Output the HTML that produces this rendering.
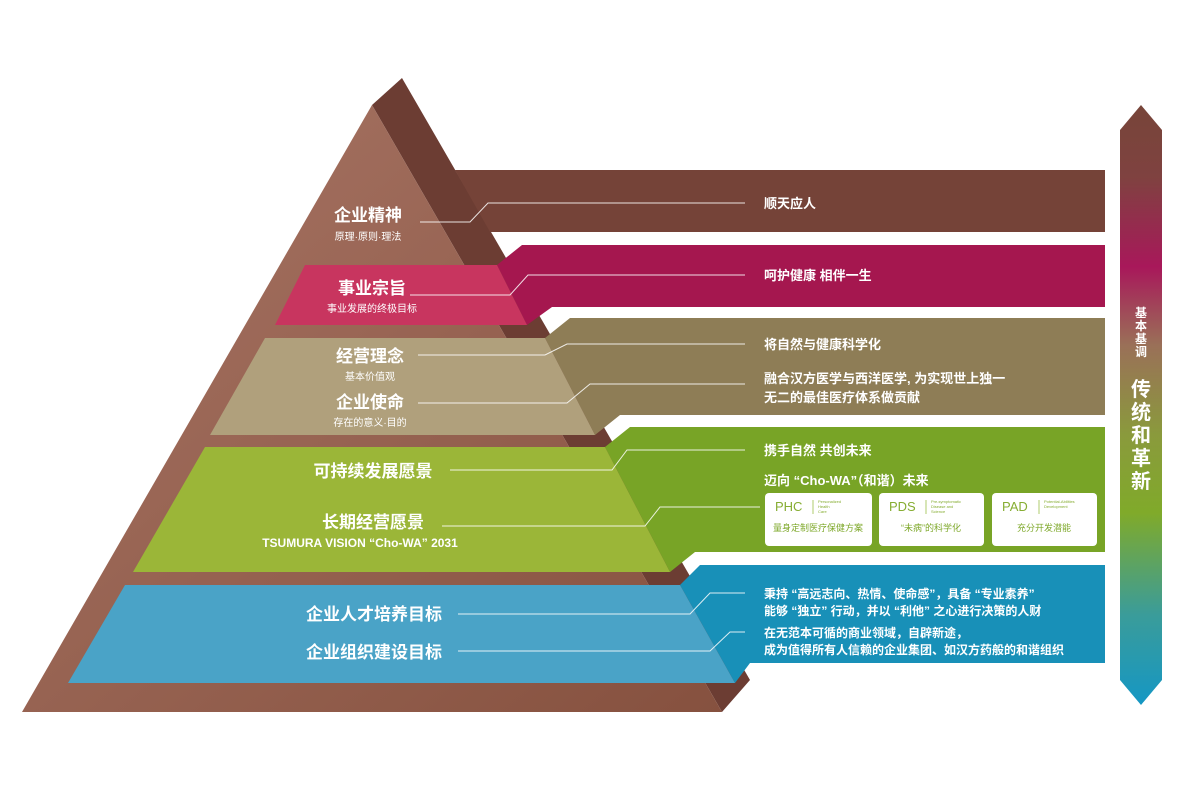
<!DOCTYPE html>
<html><head><meta charset="utf-8"><style>
body{margin:0;background:#fff;width:1200px;height:800px;overflow:hidden}
svg text{font-family:"Liberation Sans","Noto Sans CJK SC",sans-serif;fill:#fff}
</style></head><body>
<svg width="1200" height="800" viewBox="0 0 1200 800">
<defs>
<linearGradient id="pf" x1="0" y1="0" x2="1" y2="1"><stop offset="0" stop-color="#a87565"/><stop offset="1" stop-color="#86513f"/></linearGradient>
<linearGradient id="ar" x1="0" y1="0" x2="0" y2="1">
<stop offset="0" stop-color="#774539"/><stop offset="0.12" stop-color="#7f4240"/><stop offset="0.27" stop-color="#a8185a"/><stop offset="0.4" stop-color="#9a7058"/><stop offset="0.55" stop-color="#8a9a3c"/><stop offset="0.68" stop-color="#80aa2a"/><stop offset="0.85" stop-color="#3a9c9a"/><stop offset="1" stop-color="#1597c4"/></linearGradient>
</defs>
<!-- pyramid -->
<polygon points="372,105 402,78 750,680 722,712" fill="#6c3d33"/>
<polygon points="372,105 22,712 722,712" fill="url(#pf)"/>
<!-- tier1 bar -->
<polygon points="455,170 1105,170 1105,232 490,232" fill="#754338"/>
<!-- tier2 -->
<polygon points="497,265 522,245 1105,245 1105,307 552,307 527,325" fill="#a5174f"/>
<polygon points="305,265 497,265 527,325 275,325" fill="#c8355f"/>
<!-- tier3 -->
<polygon points="545,338 570,318 1105,318 1105,415 620,415 595,435" fill="#8e7d56"/>
<polygon points="265,338 545,338 595,435 210,435" fill="#b0a07c"/>
<!-- tier4 -->
<polygon points="605,447 630,427 1105,427 1105,552 695,552 670,572" fill="#78a426"/>
<polygon points="205,447 605,447 670,572 133,572" fill="#9bb638"/>
<!-- tier5 -->
<polygon points="680,585 700,565 1105,565 1105,663 750,663 735,683" fill="#1890b8"/>
<polygon points="125,585 680,585 735,683 68,683" fill="#4aa3c7"/>
<!-- arrow -->
<polygon points="1141,105 1162,130 1162,680 1141,705 1120,680 1120,130" fill="url(#ar)"/>
<g stroke="#fff" stroke-width="1" fill="none" opacity="0.85">
<polyline points="420,222 470,222 488,203 745,203"/>
<polyline points="410,295 510,295 528,275 745,275"/>
<polyline points="418,355 545,355 567,344 745,344"/>
<polyline points="418,403 567,403 590,384 745,384"/>
<polyline points="450,470 612,470 627,450 745,450"/>
<polyline points="442,526 645,526 660,507 760,507"/>
<polyline points="458,614 690,614 710,593 745,593"/>
<polyline points="458,651 710,651 730,632 745,632"/>
</g>
<!-- pyramid labels -->
<text x="368" y="221" font-size="17" font-weight="bold" text-anchor="middle">企业精神</text>
<text x="368" y="240" font-size="10" text-anchor="middle">原理·原则·理法</text>
<text x="372" y="294" font-size="17" font-weight="bold" text-anchor="middle">事业宗旨</text>
<text x="372" y="312" font-size="10" text-anchor="middle">事业发展的终极目标</text>
<text x="370" y="362" font-size="17" font-weight="bold" text-anchor="middle">经营理念</text>
<text x="370" y="380" font-size="10" text-anchor="middle">基本价值观</text>
<text x="370" y="408" font-size="17" font-weight="bold" text-anchor="middle">企业使命</text>
<text x="370" y="426" font-size="10" text-anchor="middle">存在的意义·目的</text>
<text x="373" y="477" font-size="17" font-weight="bold" text-anchor="middle">可持续发展愿景</text>
<text x="373" y="528" font-size="17" font-weight="bold" text-anchor="middle">长期经营愿景</text>
<text x="360" y="547" font-size="12" font-weight="bold" text-anchor="middle">TSUMURA VISION “Cho-WA” 2031</text>
<text x="374" y="620" font-size="17" font-weight="bold" text-anchor="middle">企业人才培养目标</text>
<text x="374" y="658" font-size="17" font-weight="bold" text-anchor="middle">企业组织建设目标</text>
<!-- bar texts -->
<g font-size="13" font-weight="bold">
<text x="764" y="208">顺天应人</text>
<text x="764" y="280">呵护健康 相伴一生</text>
<text x="764" y="349">将自然与健康科学化</text>
<text x="764" y="383">融合汉方医学与西洋医学, 为实现世上独一</text>
<text x="764" y="402">无二的最佳医疗体系做贡献</text>
<text x="764" y="455">携手自然 共创未来</text>
<text x="764" y="485">迈向 “Cho-WA”（和谐）未来</text>
<text x="764" y="598" font-size="12">秉持 “高远志向、热情、使命感”，具备 “专业素养”</text>
<text x="764" y="615" font-size="12">能够 “独立” 行动，并以 “利他” 之心进行决策的人财</text>
<text x="764" y="637" font-size="12">在无范本可循的商业领域，自辟新途，</text>
<text x="764" y="654" font-size="12">成为值得所有人信赖的企业集团、如汉方药般的和谐组织</text>
</g>
<!-- white boxes -->
<g>
<rect x="765" y="493" width="107" height="53" rx="4" fill="#fff"/>
<rect x="879" y="493" width="105" height="53" rx="4" fill="#fff"/>
<rect x="992" y="493" width="105" height="53" rx="4" fill="#fff"/>
<g style="fill:#7ea82a">
<text x="775" y="511" font-size="13" style="fill:#86ad32">PHC</text>
<text x="889" y="511" font-size="13" style="fill:#86ad32">PDS</text>
<text x="1002" y="511" font-size="13" style="fill:#86ad32">PAD</text>
<text x="818" y="503" font-size="4" style="fill:#86ad32">Personalized</text><text x="818" y="508" font-size="4" style="fill:#86ad32">Health</text><text x="818" y="513" font-size="4" style="fill:#86ad32">Care</text>
<text x="931" y="503" font-size="4" style="fill:#86ad32">Pre-symptomatic</text><text x="931" y="508" font-size="4" style="fill:#86ad32">Disease and</text><text x="931" y="513" font-size="4" style="fill:#86ad32">Science</text>
<text x="1044" y="503" font-size="4" style="fill:#86ad32">Potential-Abilities</text><text x="1044" y="508" font-size="4" style="fill:#86ad32">Development</text>
<text x="818" y="531" font-size="9" text-anchor="middle" style="fill:#7ea82a">量身定制医疗保健方案</text>
<text x="931" y="531" font-size="9" text-anchor="middle" style="fill:#7ea82a">“未病”的科学化</text>
<text x="1044" y="531" font-size="9" text-anchor="middle" style="fill:#7ea82a">充分开发潜能</text>
</g>
<g stroke="#9bbf4a" stroke-width="0.8"><line x1="813" y1="500" x2="813" y2="514"/><line x1="926" y1="500" x2="926" y2="514"/><line x1="1039" y1="500" x2="1039" y2="514"/></g>
</g>
<!-- arrow text -->
<g font-size="12" font-weight="bold" text-anchor="middle">
<text x="1141" y="317">基</text><text x="1141" y="330">本</text><text x="1141" y="343">基</text><text x="1141" y="356">调</text>
</g>
<g font-size="20" font-weight="bold" text-anchor="middle">
<text x="1141" y="396">传</text><text x="1141" y="419">统</text><text x="1141" y="442">和</text><text x="1141" y="465">革</text><text x="1141" y="488">新</text>
</g>
</svg>
</body></html>
